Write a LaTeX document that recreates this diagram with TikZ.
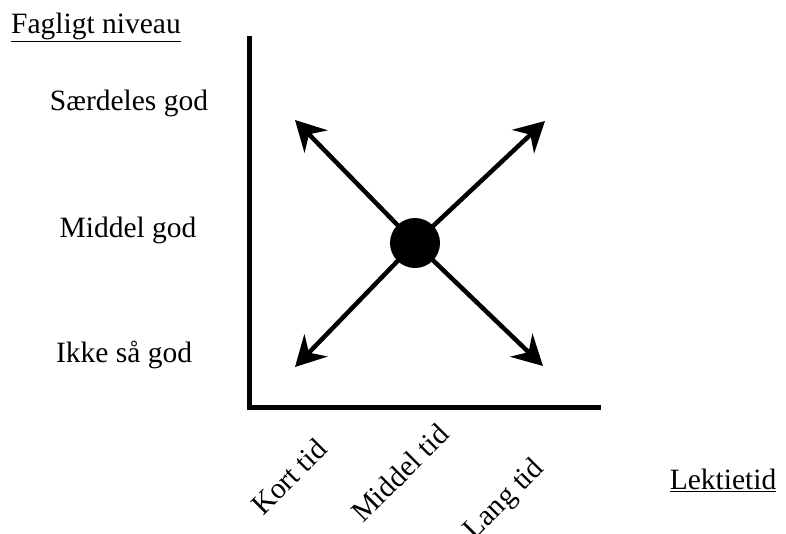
\documentclass[tikz,border=0pt]{standalone}
\usepackage{fontspec}
\setmainfont{Liberation Serif}
\usepackage{tikz}
\usetikzlibrary{arrows.meta,positioning}

\begin{document}
\begin{tikzpicture}[
  x=1pt, y=-1pt,
  lbl/.style={inner sep=0pt, font=\fontsize{29.5}{34}\selectfont},
  axis/.style={line width=5pt, line cap=rect},
  arr/.style={-{Stealth[length=30pt, width=32pt, inset=10pt]}, line width=4.5pt}
]
\useasboundingbox (0,0) rectangle (786,533);
% axes
\coordinate (ytop) at (249,38);
\coordinate (orig) at (249,407);
\coordinate (xend) at (598,407);
\draw[axis] (ytop) -- (orig) -- (xend);
% axis titles and levels
\node[lbl] (ytitle) at (96,27) {\underline{Fagligt niveau}};
\node[lbl] (xtitle) at (723,480) {\underline{Lektietid}};
\node[lbl] (high) at (129,103) {Særdeles god};
\node[lbl] (mid) at (128,230) {Middel god};
\node[lbl] (low) at (124,355) {Ikke så god};
\node[lbl, rotate=45] (short) at (289,477) {Kort tid};
\node[lbl, rotate=45] (medium) at (400,473) {Middel tid};
\node[lbl, rotate=45] (long) at (505,500) {Lang tid};
% centre point and the four directions
\node[circle, fill=black, minimum size=50pt, inner sep=0pt] (dot) at (415,243) {};
\coordinate (nw) at (295,120);
\coordinate (ne) at (545,121);
\coordinate (sw) at (295,367);
\coordinate (se) at (543,366);
\draw[arr] (dot.center) -- (nw);
\draw[arr] (dot.center) -- (ne);
\draw[arr] (dot.center) -- (sw);
\draw[arr] (dot.center) -- (se);
\end{tikzpicture}
\end{document}
